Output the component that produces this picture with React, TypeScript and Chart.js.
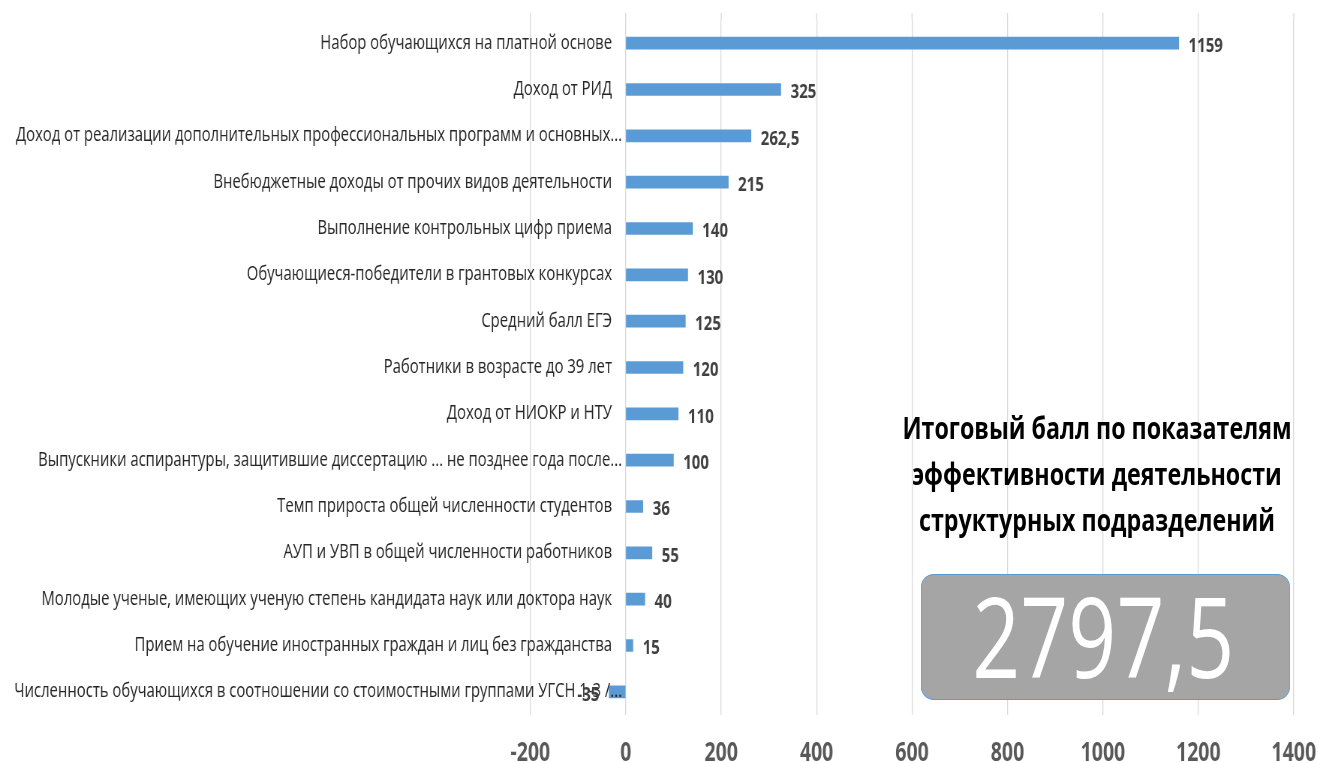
import React, { useEffect, useRef } from 'react';
import { Chart, registerables } from 'chart.js';

Chart.register(...registerables);

// horizontal condensing factor (the reference is horizontally squeezed)
const SX = 0.75;
const W = 1319;
const H = 762;

const categories: string[] = [
  'Набор обучающихся на платной основе',
  'Доход от РИД',
  'Доход от реализации дополнительных профессиональных программ и основных...',
  'Внебюджетные доходы от прочих видов деятельности',
  'Выполнение контрольных цифр приема',
  'Обучающиеся-победители в грантовых конкурсах',
  'Средний балл ЕГЭ',
  'Работники в возрасте до 39 лет',
  'Доход от НИОКР и НТУ',
  'Выпускники аспирантуры, защитившие диссертацию ... не позднее года после...',
  'Темп прироста общей численности студентов',
  'АУП и УВП в общей численности работников',
  'Молодые ученые, имеющих ученую степень кандидата наук или доктора наук',
  'Прием на обучение иностранных граждан и лиц без гражданства',
  'Численность обучающихся в соотношении со стоимостными группами УГСН 1-3 /...',
];

const values: number[] = [1159, 325, 262.5, 215, 140, 130, 125, 120, 110, 100, 36, 55, 40, 15, -35];

const xMin = -200;
const xMax = 1400;
const xStep = 200;

const titleLines: string[] = [
  'Итоговый балл по показателям',
  'эффективности деятельности',
  'структурных подразделений',
];
const totalLabel = '2797,5';

const fmt = (v: number) => String(v).replace('.', ',');

// gridlines in the reference start a little above the first category band
const gridExtendPlugin = {
  id: 'gridExtend',
  beforeDatasetsDraw(chart: any) {
    const ctx = chart.ctx;
    const xs = chart.scales.x;
    const top = chart.chartArea.top;
    ctx.save();
    ctx.strokeStyle = '#D9D9D9';
    ctx.lineWidth = 1.33;
    xs.ticks.forEach((t: any) => {
      const x = xs.getPixelForValue(t.value);
      ctx.beginPath();
      ctx.moveTo(x, top - 7);
      ctx.lineTo(x, top);
      ctx.stroke();
    });
    ctx.restore();
  },
};

const labelPlugin = {
  id: 'customLabels',
  afterDatasetsDraw(chart: any) {
    const ctx = chart.ctx;
    const xs = chart.scales.x;
    const ys = chart.scales.y;
    const x0 = xs.getPixelForValue(0);
    const meta = chart.getDatasetMeta(0);
    ctx.save();
    // category labels (untruncated labels keep a small gap before the axis)
    ctx.font = '19.8px "Open Sans"';
    ctx.fillStyle = '#262626';
    ctx.textAlign = 'right';
    ctx.textBaseline = 'middle';
    categories.forEach((c, i) => {
      const truncated = c.endsWith('...');
      const gap = truncated ? 5 : 5 + 10 / SX;
      ctx.fillText(c, x0 - gap, ys.getPixelForValue(i));
    });
    // value labels
    ctx.font = 'bold 20px "Open Sans"';
    ctx.fillStyle = '#404040';
    values.forEach((v, i) => {
      const bar = meta.data[i];
      const y = bar.y + 3;
      if (v >= 0) {
        ctx.textAlign = 'left';
        ctx.fillText(fmt(v), bar.x + 13, y);
      } else {
        ctx.textAlign = 'right';
        ctx.fillText(fmt(v), bar.x - 13, y);
      }
    });
    ctx.restore();
  },
};

export default function App() {
  const canvasRef = useRef<HTMLCanvasElement | null>(null);

  useEffect(() => {
    if (!canvasRef.current) return;
    const chart = new Chart(canvasRef.current, {
      type: 'bar',
      data: {
        labels: categories,
        datasets: [
          {
            data: values,
            backgroundColor: '#5B9BD5',
            borderWidth: 0,
            barThickness: 12,
          },
        ],
      },
      options: {
        indexAxis: 'y',
        responsive: true,
        maintainAspectRatio: false,
        animation: false,
        layout: {
          padding: { left: 530 / SX, right: (W - 1293) / SX, top: 20, bottom: 0 },
        },
        plugins: {
          legend: { display: false },
          tooltip: { enabled: false },
        },
        scales: {
          x: {
            min: xMin,
            max: xMax,
            ticks: {
              stepSize: xStep,
              font: { family: 'Open Sans', size: 26, weight: 'bold' },
              color: '#595959',
              padding: 23,
              callback: (v: any) => String(v),
            },
            grid: { color: '#D9D9D9', lineWidth: 1.33, drawTicks: false },
            border: { display: false },
            afterFit(scale: any) {
              scale.height = 47;
              scale.paddingLeft = 0;
              scale.paddingRight = 0;
            },
          },
          y: {
            display: false,
          },
        },
      },
      plugins: [gridExtendPlugin, labelPlugin],
    } as any);
    return () => chart.destroy();
  }, []);

  const titleCenter = 1097 / SX;
  return (
    <div
      style={{
        position: 'fixed',
        left: 0,
        top: 0,
        width: W,
        height: H,
        overflow: 'hidden',
        background: '#fff',
      }}
    >
      <div
        style={{
          position: 'absolute',
          left: 0,
          top: 0,
          width: W / SX,
          height: H,
          transform: `scaleX(${SX})`,
          transformOrigin: '0 0',
        }}
      >
        <div style={{ position: 'absolute', left: 0, top: 0, width: '100%', height: '100%' }}>
          <canvas ref={canvasRef} />
        </div>
        <div
          style={{
            position: 'absolute',
            left: titleCenter - 400,
            width: 800,
            top: 404,
            textAlign: 'center',
            fontFamily: '"Open Sans", sans-serif',
            fontWeight: 700,
            fontSize: 31,
            lineHeight: '46px',
            color: '#000',
            whiteSpace: 'nowrap',
          }}
        >
          {titleLines.map((t, i) => (
            <div key={i}>{t}</div>
          ))}
        </div>
        <div
          style={{
            position: 'absolute',
            left: 921 / SX,
            top: 574,
            width: (1290 - 921) / SX,
            height: 126,
            boxSizing: 'border-box',
            background: '#A5A5A5',
            border: '1.33px solid #5B9BD5',
            borderRadius: '17px / 13px',
          }}
        >
          <div
            style={{
              position: 'relative',
              top: -2,
              left: -3,
              textAlign: 'center',
              fontFamily: '"Open Sans", sans-serif',
              fontWeight: 400,
              fontSize: 112,
              lineHeight: '124px',
              color: '#fff',
              whiteSpace: 'nowrap',
            }}
          >
            {totalLabel}
          </div>
        </div>
      </div>
    </div>
  );
}
